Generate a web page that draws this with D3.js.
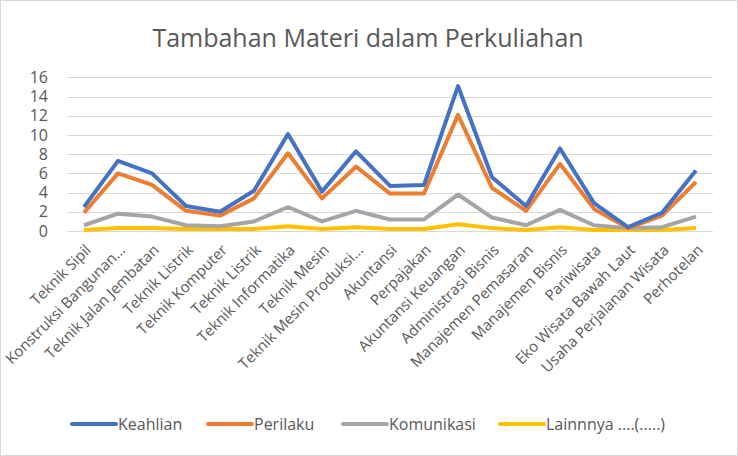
<!DOCTYPE html>
<html>
<head>
<meta charset="utf-8">
<script src="https://cdn.jsdelivr.net/npm/d3@7"></script>
<style>
  body { margin: 0; background: #fff; }
  svg { display: block; font-family: "Open Sans", sans-serif; }
</style>
</head>
<body>
<svg id="chart" width="738" height="456"></svg>
<script>
// data
var categories = ["Teknik Sipil", "Konstruksi Bangunan...", "Teknik Jalan Jembatan", "Teknik Listrik",
  "Teknik Komputer", "Teknik Listrik ", "Teknik Informatika", "Teknik Mesin", "Teknik Mesin Produksi...",
  "Akuntansi", "Perpajakan", "Akuntansi Keuangan", "Administrasi Bisnis", "Manajemen Pemasaran",
  "Manajemen Bisnis", "Pariwisata", "Eko Wisata Bawah Laut", "Usaha Perjalanan Wisata", "Perhotelan"];
var keahlian   = [2.5, 7.3, 6.0, 2.6, 2.0, 4.2, 10.1, 4.1, 8.3, 4.7, 4.8, 15.1, 5.6, 2.6, 8.6, 2.9, 0.4, 1.9, 6.3];
var perilaku   = [1.9, 6.0, 4.8, 2.1, 1.6, 3.4, 8.1, 3.4, 6.7, 3.9, 3.9, 12.1, 4.5, 2.1, 7.0, 2.3, 0.3, 1.6, 5.1];
var komunikasi = [0.6, 1.8, 1.5, 0.6, 0.5, 1.0, 2.5, 1.0, 2.1, 1.2, 1.2, 3.8, 1.4, 0.6, 2.2, 0.6, 0.3, 0.4, 1.5];
var lainnya    = [0.1, 0.3, 0.3, 0.2, 0.2, 0.2, 0.5, 0.2, 0.4, 0.2, 0.2, 0.7, 0.3, 0.1, 0.4, 0.1, 0.1, 0.1, 0.3];
var yTicks = [0, 2, 4, 6, 8, 10, 12, 14, 16];
var seriesNames = ["Keahlian", "Perilaku", "Komunikasi", "Lainnnya ....(.....)"];
var seriesColors = ["#4472C4", "#ED7D31", "#A5A5A5", "#FFC000"];

var series = [keahlian, perilaku, komunikasi, lainnya];

var svg = d3.select("#chart");
var W = 738, H = 456;
var plotLeft = 67, plotRight = 713, plotTop = 77.4, plotBottom = 231;

svg.append("rect")
  .attr("x", 0.5).attr("y", 0.5)
  .attr("width", W - 1).attr("height", H - 1)
  .attr("fill", "#fff").attr("stroke", "#D9D9D9");

svg.append("text")
  .attr("x", 368).attr("y", 47)
  .attr("text-anchor", "middle")
  .attr("fill", "#595959")
  .style("font-size", "25px")
  .text("Tambahan Materi dalam Perkuliahan");

var x = d3.scaleBand().domain(d3.range(categories.length)).range([plotLeft, plotRight]);
var y = d3.scaleLinear().domain([0, 16]).range([plotBottom, plotTop]);

// gridlines
svg.append("g")
  .selectAll("line").data(yTicks).enter().append("line")
  .attr("x1", plotLeft).attr("x2", plotRight)
  .attr("y1", function(d) { return Math.round(y(d)) + 0.5; })
  .attr("y2", function(d) { return Math.round(y(d)) + 0.5; })
  .attr("stroke", "#D9D9D9").attr("stroke-width", 1);

// y axis labels
var yAxis = svg.append("g")
  .attr("transform", "translate(" + (plotLeft - 19) + ",0)")
  .call(d3.axisLeft(y).tickValues(yTicks).tickSize(0).tickPadding(0));
yAxis.select(".domain").remove();
yAxis.selectAll("text")
  .attr("fill", "#595959")
  .style("font-size", "16px")
  .style("font-family", "Open Sans");

// x axis labels
var xAxis = svg.append("g")
  .attr("transform", "translate(0," + plotBottom + ")")
  .call(d3.axisBottom(x).tickSize(0).tickFormat(function(i) { return categories[i]; }));
xAxis.select(".domain").remove();
xAxis.selectAll("text")
  .attr("fill", "#595959")
  .style("font-size", "15px")
  .style("font-family", "Open Sans")
  .attr("text-anchor", "end")
  .attr("dy", "0")
  .attr("y", 0)
  .attr("transform", "translate(8,20) rotate(-45)");

var line = d3.line()
  .x(function(d, i) { return x(i) + x.bandwidth() / 2; })
  .y(function(d) { return y(d); });

// draw back to front so Keahlian is on top of Perilaku etc.
svg.append("g")
  .selectAll("path").data(series.slice().reverse()).enter().append("path")
  .attr("d", line)
  .attr("fill", "none")
  .attr("stroke", function(d, i) { return seriesColors[series.length - 1 - i]; })
  .attr("stroke-width", 4)
  .attr("stroke-linejoin", "round");

// legend
var legendX = [72, 208, 343, 500];
var legend = svg.append("g").selectAll("g").data(seriesNames).enter().append("g")
  .attr("transform", function(d, i) { return "translate(" + legendX[i] + ",424)"; });
legend.append("line")
  .attr("x1", 0).attr("x2", 44)
  .attr("stroke", function(d, i) { return seriesColors[i]; })
  .attr("stroke-width", 4)
  .attr("stroke-linecap", "round");
legend.append("text")
  .attr("x", 46).attr("y", 6)
  .attr("fill", "#595959")
  .style("font-size", "16px")
  .text(function(d) { return d; });
</script>
</body>
</html>
